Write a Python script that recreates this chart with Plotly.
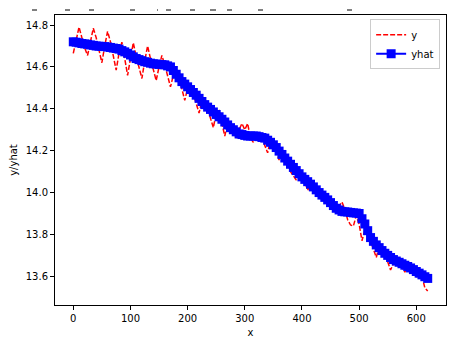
import plotly.graph_objects as go

x_vals = list(range(0, 621, 5))

yhat_vals = [
    14.720, 14.718, 14.715, 14.712, 14.710, 14.708, 14.705, 14.703, 14.700, 14.699,
    14.698, 14.697, 14.695, 14.693, 14.690, 14.688, 14.685, 14.678, 14.672, 14.665,
    14.657, 14.648, 14.640, 14.635, 14.630, 14.625, 14.622, 14.618, 14.615, 14.614,
    14.612, 14.611, 14.610, 14.605, 14.600, 14.583, 14.565, 14.548, 14.530, 14.518,
    14.505, 14.492, 14.478, 14.465, 14.450, 14.435, 14.420, 14.408, 14.397, 14.385,
    14.373, 14.362, 14.350, 14.337, 14.323, 14.310, 14.300, 14.290, 14.280, 14.277,
    14.273, 14.270, 14.270, 14.270, 14.270, 14.267, 14.263, 14.260, 14.250, 14.240,
    14.228, 14.215, 14.198, 14.182, 14.165, 14.150, 14.135, 14.120, 14.105, 14.090,
    14.075, 14.063, 14.052, 14.040, 14.027, 14.013, 14.000, 13.988, 13.977, 13.965,
    13.952, 13.938, 13.925, 13.917, 13.910, 13.908, 13.907, 13.905, 13.903, 13.902,
    13.900, 13.875, 13.850, 13.818, 13.785, 13.767, 13.750, 13.737, 13.723, 13.710,
    13.700, 13.690, 13.680, 13.673, 13.667, 13.660, 13.653, 13.647, 13.640, 13.632,
    13.623, 13.615, 13.607, 13.598, 13.590,
]

y_vals = [
    14.665, 14.730, 14.790, 14.740, 14.690, 14.655, 14.720, 14.785, 14.740, 14.680,
    14.620, 14.700, 14.770, 14.720, 14.650, 14.585, 14.665, 14.718, 14.640, 14.560,
    14.640, 14.715, 14.650, 14.590, 14.545, 14.630, 14.700, 14.640, 14.580, 14.535,
    14.600, 14.655, 14.610, 14.550, 14.505, 14.560, 14.585, 14.550, 14.490, 14.440,
    14.500, 14.520, 14.470, 14.420, 14.380, 14.440, 14.445, 14.400, 14.350, 14.310,
    14.380, 14.390, 14.330, 14.270, 14.330, 14.330, 14.300, 14.260, 14.300, 14.330,
    14.300, 14.330, 14.260, 14.240, 14.280, 14.285, 14.260, 14.220, 14.190, 14.250,
    14.245, 14.200, 14.155, 14.200, 14.180, 14.140, 14.100, 14.080, 14.060, 14.100,
    14.090, 14.050, 14.010, 14.050, 14.040, 14.000, 13.980, 13.965, 13.990, 13.975,
    13.940, 13.920, 13.905, 13.935, 13.955, 13.920, 13.870, 13.845, 13.840, 13.890,
    13.850, 13.770, 13.820, 13.810, 13.770, 13.740, 13.690, 13.740, 13.730, 13.700,
    13.670, 13.630, 13.660, 13.680, 13.665, 13.640, 13.620, 13.655, 13.645, 13.620,
    13.600, 13.625, 13.600, 13.545, 13.530,
]

x_ticks = [0, 100, 200, 300, 400, 500, 600]
y_ticks = [13.6, 13.8, 14.0, 14.2, 14.4, 14.6, 14.8]

# clipped title fragments at the top (pixel x start/end)
frag_px = [(32, 37), (65, 70), (89, 94), (130, 135), (157, 158), (166, 171),
           (190, 195), (210, 216), (227, 232), (258, 263), (347, 352)]

L, R, T, B = 55, 5, 15, 40
W, H = 451, 345
pw = W - L - R
ph = H - T - B

fig = go.Figure()
fig.add_trace(go.Scatter(
    x=x_vals, y=y_vals, mode="lines", name="y",
    line=dict(color="red", width=1.5, dash="5px,2px"),
))
fig.add_trace(go.Scatter(
    x=x_vals, y=yhat_vals, mode="lines+markers", name="yhat",
    line=dict(color="blue", width=2),
    marker=dict(symbol="square", size=9, color="blue", line=dict(width=0)),
))

shapes = []
for a, b in frag_px:
    shapes.append(dict(type="line", xref="paper", yref="paper",
                       x0=(a - L) / pw, x1=(b - L) / pw,
                       y0=(H - B - 10) / ph, y1=(H - B - 10) / ph,
                       line=dict(color="black", width=1)))

fig.update_layout(
    width=W, height=H,
    margin=dict(l=L, r=R, t=T, b=B, autoexpand=False),
    paper_bgcolor="white", plot_bgcolor="white",
    font=dict(family="DejaVu Sans", size=10, color="black"),
    showlegend=True,
    legend=dict(x=0.985, y=0.985, xanchor="right", yanchor="top",
                bgcolor="rgba(255,255,255,0.8)", bordercolor="#cccccc", borderwidth=1,
                font=dict(size=10), itemwidth=30, tracegroupgap=0),
    shapes=shapes,
)
fig.update_xaxes(
    range=[-32, 652], tickvals=x_ticks, ticktext=[str(v) for v in x_ticks],
    showgrid=False, zeroline=False, showline=True, mirror=True, automargin=False,
    linecolor="black", linewidth=1, ticks="outside", ticklen=4, tickcolor="black",
    title=dict(text="x", standoff=5, font=dict(size=10)),
)
fig.update_yaxes(
    range=[13.463, 14.848], tickvals=y_ticks, ticktext=[f"{v:.1f}" for v in y_ticks],
    showgrid=False, zeroline=False, showline=True, mirror=True, automargin=False,
    linecolor="black", linewidth=1, ticks="outside", ticklen=4, tickcolor="black",
    title=dict(text="y/yhat", standoff=6, font=dict(size=10)),
)

fig.write_html("out.html",
               config={"displayModeBar": False},
               post_script="document.body.style.margin='0';document.body.style.overflow='hidden';")
